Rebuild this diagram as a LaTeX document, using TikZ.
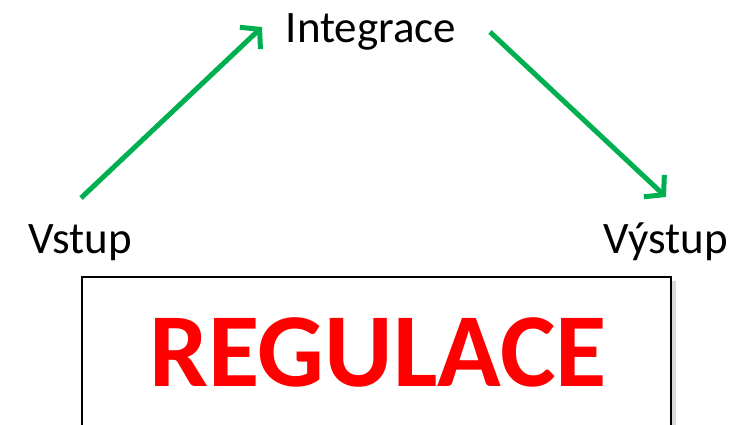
\documentclass[tikz,border=0pt]{standalone}
\usepackage{fontspec}
\setmainfont{Carlito}
\definecolor{flowgreen}{RGB}{0, 176, 80}
\definecolor{regred}{RGB}{255, 0, 0}
\usepackage{tikz}
\usetikzlibrary{arrows.meta, positioning, shadows}

\begin{document}
\begin{tikzpicture}[x=1pt, y=-1pt,
    label/.style={font=\fontsize{45}{54}\selectfont, anchor=base, inner sep=0pt},
    flow/.style={line width=5pt, flowgreen, -{Straight Barb[length=13pt, width=30pt, line width=5pt]}}]
  \useasboundingbox (0, 0) rectangle (756, 424);
  \clip (0, 0) rectangle (756, 424);

  % Labels
  \node[label] (integrace) at (371, 42) {Integrace};
  \node[label] (vstup) at (80.5, 253) {Vstup};
  \node[label] (vystup) at (666, 253) {Výstup};

  % Arrow ends
  \coordinate (in1) at (81, 198);
  \coordinate (in2) at (262, 27);
  \coordinate (out1) at (490, 32);
  \coordinate (out2) at (666, 197);

  \draw[flow] (in1) -- (in2);
  \draw[flow] (out1) -- (out2);

  % Regulation box
  \node[draw, line width=2.8pt, fill=white, minimum width=589pt, minimum height=166pt,
        drop shadow={shadow xshift=5pt, shadow yshift=-4pt, opacity=0.3}] (regbox) at (376.5, 360) {};
  \node[font=\bfseries\fontsize{105}{120}\selectfont, text=regred, anchor=base, inner sep=0pt] (regulace) at (378, 386) {REGULACE};
\end{tikzpicture}
\end{document}
